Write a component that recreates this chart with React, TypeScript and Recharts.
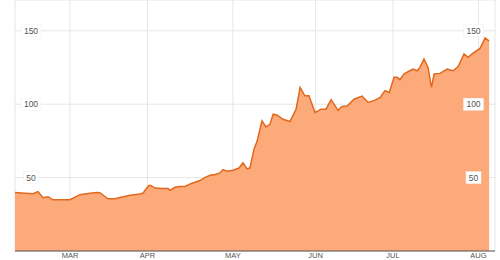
import React from 'react';
import { AreaChart, Area, XAxis, YAxis, CartesianGrid } from 'recharts';

// day-of-year (2012) and closing value
const days = [
    40.4, 44.1, 47.1, 49.0, 50.9, 52.8, 54.6, 58.0, 61.0, 64.7,
    68.5, 71.1, 72.2, 75.2, 77.9, 79.7, 83.5, 87.2, 88.4, 89.9,
    90.6, 91.3, 92.8, 95.5, 97.7, 98.5, 100.3, 102.2, 104.1, 106.0,
    109.7, 111.6, 113.5, 115.3, 117.2, 118.3, 119.8, 122.1, 124.3, 125.8,
    127.3, 128.4, 129.9, 131.1, 132.9, 134.4, 135.9, 137.1, 138.6, 140.8,
    143.4, 145.7, 147.2, 149.0, 150.5, 152.8, 155.0, 156.9, 158.8, 161.4,
    162.9, 164.8, 167.4, 170.4, 172.7, 175.3, 177.2, 179.0, 180.6, 182.4,
    183.5, 184.6, 186.1, 187.6, 189.5, 191.0, 192.1, 193.6, 195.1, 196.4,
    197.4, 199.6, 202.3, 204.5, 206.4, 208.6, 210.1, 211.6, 214.6, 216.5,
    218.0,
];
const prices = [
    39.9, 39.4, 39.0, 40.4, 36.3, 37.0, 34.9, 34.9, 34.9, 38.4,
    39.4, 39.9, 39.7, 35.6, 35.6, 36.5, 38.0, 38.8, 39.5, 43.2,
    44.7, 44.7, 42.9, 42.5, 42.5, 41.3, 43.4, 44.0, 44.0, 45.7,
    48.0, 50.2, 51.6, 52.1, 53.2, 55.5, 54.3, 55.0, 56.5, 60.1,
    56.0, 56.6, 69.2, 74.9, 88.6, 84.5, 86.3, 93.2, 92.5, 89.7,
    88.2, 96.6, 111.5, 105.7, 105.7, 94.3, 96.6, 96.6, 103.1, 95.8,
    98.4, 98.8, 103.4, 105.5, 101.2, 102.8, 104.6, 109.3, 108.0, 118.3,
    118.3, 116.7, 120.6, 122.1, 124.0, 122.8, 125.1, 130.8, 125.1, 111.5,
    120.6, 121.0, 124.0, 122.8, 125.7, 134.3, 132.0, 134.3, 138.0, 145.2,
    143.0,
];

const monthTicks = [61, 90, 122, 153, 182, 214];
const monthLabels = ['MAR', 'APR', 'MAY', 'JUN', 'JUL', 'AUG'];
const valueTicks = [50, 100, 150];

const data = days.map((d, i) => ({ day: d, value: prices[i] }));

const MonthTick = (props: any) => {
    const { x, payload } = props;
    const idx = monthTicks.indexOf(payload.value);
    return (
        <text x={x} y={258} textAnchor="middle" fontSize={7.5} fill="#555" fontFamily="Arial, 'Liberation Sans', sans-serif">
            {monthLabels[idx]}
        </text>
    );
};

const ValueLabel = ({ cx, y, label }: { cx: number; y: number; label: string }) => {
    const w = label.length * 5 + 5;
    return (
        <g>
            <rect x={cx - w / 2} y={y - 6} width={w} height={12} fill="#fff" stroke="#eee" strokeWidth={0.5} />
            <text x={cx} y={y + 3} textAnchor="middle" fontSize={8.5} fill="#555" fontFamily="Arial, 'Liberation Sans', sans-serif">
                {label}
            </text>
        </g>
    );
};

// labels sit on both sides of the plot, in white boxes
const ValueTick = (props: any) => {
    const { y, payload } = props;
    return (
        <g>
            <ValueLabel cx={31} y={y} label={String(payload.value)} />
            <ValueLabel cx={473.5} y={y} label={String(payload.value)} />
        </g>
    );
};

const App: React.FC = () => {
    return (
        <div style={{ position: 'absolute', left: 0, top: 0, width: 500, height: 260, background: '#fff' }}>
            <AreaChart width={500} height={260} data={data} margin={{ top: 0, right: 5, left: 15, bottom: 0 }}>
                <CartesianGrid stroke="#e6e6e6" />
                <XAxis
                    dataKey="day"
                    type="number"
                    domain={[40.4, 220.2]}
                    ticks={monthTicks}
                    height={9}
                    tickLine={false}
                    axisLine={{ stroke: '#555' }}
                    tick={<MonthTick />}
                    interval={0}
                />
                <Area
                    type="linear"
                    dataKey="value"
                    stroke="#e2681c"
                    strokeWidth={1.5}
                    fill="#fdaa7a"
                    fillOpacity={1}
                    isAnimationActive={false}
                />
                <YAxis
                    domain={[0, 171]}
                    ticks={valueTicks}
                    mirror
                    tickLine={false}
                    axisLine={false}
                    tick={<ValueTick />}
                    interval={0}
                />
            </AreaChart>
        </div>
    );
};

export default App;
